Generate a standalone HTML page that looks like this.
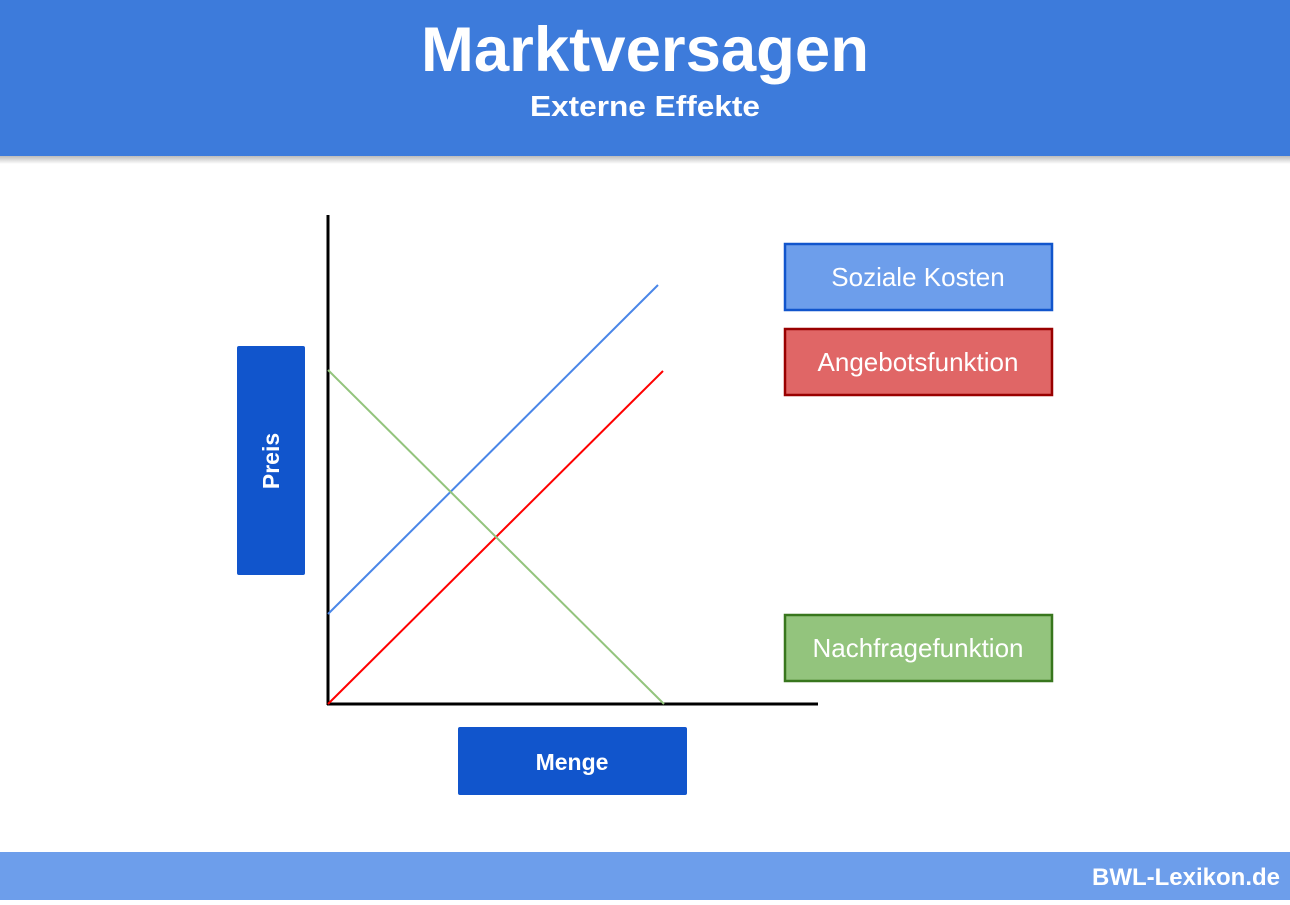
<!DOCTYPE html>
<html><head><meta charset="utf-8"><style>
body{margin:0;width:1290px;height:900px;overflow:hidden;background:#fff;font-family:"Liberation Sans",sans-serif}
</style></head><body>
<svg width="1290" height="900" xmlns="http://www.w3.org/2000/svg">
<defs><linearGradient id="sh" x1="0" y1="0" x2="0" y2="1"><stop offset="0" stop-color="#bbb"/><stop offset="1" stop-color="#fff"/></linearGradient></defs>
<rect x="0" y="156" width="1290" height="8" fill="url(#sh)"/>
<rect x="0" y="0" width="1290" height="156" fill="#3d7bdb"/>
<text x="645" y="71" text-anchor="middle" font-size="63" font-weight="bold" fill="#fff" font-family="Liberation Sans" textLength="448" lengthAdjust="spacingAndGlyphs">Marktversagen</text>
<text x="645" y="116" text-anchor="middle" font-size="29" font-weight="bold" fill="#fff" font-family="Liberation Sans" textLength="230" lengthAdjust="spacingAndGlyphs">Externe Effekte</text>
<rect x="0" y="852" width="1290" height="48" fill="#6d9eeb"/>
<text x="1280" y="885" text-anchor="end" font-size="24" font-weight="bold" fill="#fff" font-family="Liberation Sans">BWL-Lexikon.de</text>
<line x1="328" y1="215" x2="328" y2="705" stroke="#000" stroke-width="3"/>
<line x1="327" y1="704" x2="818" y2="704" stroke="#000" stroke-width="3"/>
<line x1="328" y1="614" x2="658" y2="285" stroke="#4a86e8" stroke-width="2"/>
<line x1="328" y1="704" x2="663" y2="371" stroke="#ff0000" stroke-width="2"/>
<line x1="328" y1="370" x2="664" y2="704" stroke="#93c47d" stroke-width="2"/>
<rect x="237" y="346" width="68" height="229" rx="2" fill="#1155cc"/>
<text transform="translate(279,461) rotate(-90)" text-anchor="middle" font-size="23" font-weight="bold" fill="#fff" font-family="Liberation Sans">Preis</text>
<rect x="458" y="727" width="229" height="68" rx="2" fill="#1155cc"/>
<text x="572" y="770" text-anchor="middle" font-size="23" font-weight="bold" fill="#fff" font-family="Liberation Sans">Menge</text>
<rect x="785" y="244" width="267" height="66" fill="#6d9eeb" stroke="#1155cc" stroke-width="2.5"/>
<text x="918" y="286" text-anchor="middle" font-size="26" fill="#fff" font-family="Liberation Sans">Soziale Kosten</text>
<rect x="785" y="329" width="267" height="66" fill="#e06666" stroke="#990000" stroke-width="2.5"/>
<text x="918" y="371" text-anchor="middle" font-size="26" fill="#fff" font-family="Liberation Sans">Angebotsfunktion</text>
<rect x="785" y="615" width="267" height="66" fill="#93c47d" stroke="#38761d" stroke-width="2.5"/>
<text x="918" y="657" text-anchor="middle" font-size="26" fill="#fff" font-family="Liberation Sans">Nachfragefunktion</text>
</svg>
</body></html>
